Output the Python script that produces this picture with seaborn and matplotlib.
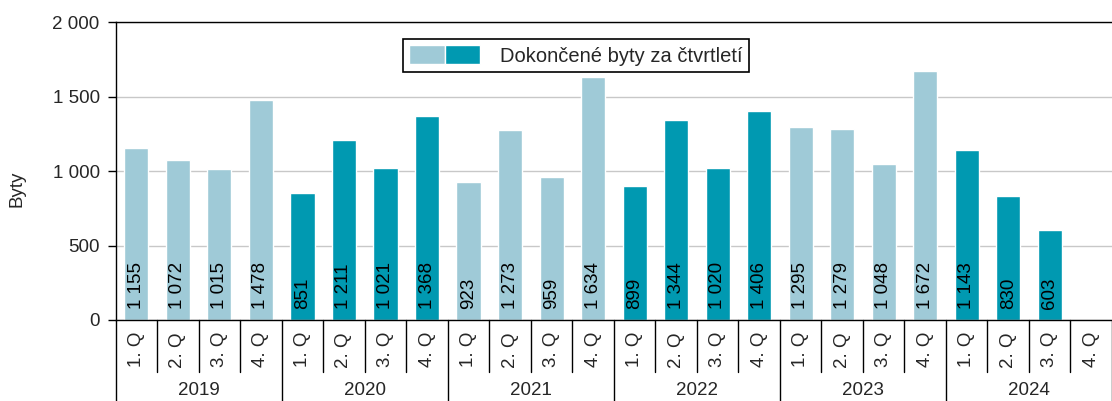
import numpy as np
import pandas as pd
import matplotlib.pyplot as plt
import seaborn as sns
from matplotlib.patches import Patch
from matplotlib.legend_handler import HandlerTuple

# --- Datos: dokončené byty za čtvrtletí ---
YEARS = ['2019', '2020', '2021', '2022', '2023', '2024']
QUARTERS = ['1. Q', '2. Q', '3. Q', '4. Q']
VALUES_2019 = [1155, 1072, 1015, 1478]
VALUES_2020 = [851, 1211, 1021, 1368]
VALUES_2021 = [923, 1273, 959, 1634]
VALUES_2022 = [899, 1344, 1020, 1406]
VALUES_2023 = [1295, 1279, 1048, 1672]
VALUES_2024 = [1143, 830, 603, np.nan]
DARK_YEARS = ['2020', '2022', '2024']

LIGHT = '#9fcad7'
DARK = '#0099b1'
FS = 13.5

sns.set_theme(style="white")
plt.rcParams['font.family'] = ['Liberation Sans', 'DejaVu Sans']
plt.rcParams['font.size'] = FS

all_values = [VALUES_2019, VALUES_2020, VALUES_2021, VALUES_2022, VALUES_2023, VALUES_2024]
rows = []
for year, vals in zip(YEARS, all_values):
    for q, v in zip(QUARTERS, vals):
        rows.append({'slot': f'{year} {q}', 'year': year, 'quarter': q, 'value': v,
                     'shade': 'dark' if year in DARK_YEARS else 'light'})
df = pd.DataFrame(rows)
order = df['slot'].tolist()

fig = plt.figure(figsize=(11.12, 4.01), dpi=100)
ax = fig.add_axes([0.104, 0.202, 0.896, 0.743])

sns.barplot(data=df.dropna(), x='slot', y='value', hue='shade', order=order,
            palette={'light': LIGHT, 'dark': DARK}, dodge=False, width=0.58,
            saturation=1, legend=False, ax=ax)

ax.set_xlim(-0.5, len(order) - 0.5)
ax.set_ylim(0, 2000)
ax.set_yticks([0, 500, 1000, 1500, 2000])
ax.set_yticklabels(['0', '500', '1 000', '1 500', '2 000'])
ax.yaxis.grid(True, color='#c8c8c8', linewidth=1)
ax.set_axisbelow(True)
ax.tick_params(axis='y', left=True, length=5.5, width=1, color='black', labelsize=FS, pad=6)
ax.set_xticks([])
ax.set_xlabel('')
ax.set_ylabel('Byty', fontsize=FS)
ax.yaxis.set_label_coords(-0.09, 0.44)
for side in ['left', 'bottom', 'top']:
    ax.spines[side].set_color('black')
    ax.spines[side].set_linewidth(1)
ax.spines['right'].set_visible(False)

# Hodnoty uvnitř sloupců
for i, v in enumerate(df['value']):
    if not np.isnan(v):
        ax.text(i, 75, f'{int(v):,}'.replace(',', ' '), rotation=90,
                ha='center', va='bottom', fontsize=FS, color='black')

# Dvouúrovňová osa x
trans = ax.get_xaxis_transform()
for i, q in enumerate(df['quarter']):
    ax.text(i, -0.1, q, rotation=90, ha='center', va='center',
            fontsize=FS, transform=trans, clip_on=False)
for i in range(len(order) + 1):
    depth = -0.272 if i % 4 == 0 else -0.174
    ax.plot([i - 0.5, i - 0.5], [0, depth], color='black', linewidth=1,
            transform=trans, clip_on=False)
for k, year in enumerate(YEARS):
    ax.text(k * 4 + 1.5, -0.238, year, ha='center', va='center',
            fontsize=FS, transform=trans, clip_on=False)

# Legenda se dvěma barevnými ploškami
handle = (Patch(facecolor=LIGHT), Patch(facecolor=DARK))
leg = ax.legend([handle], ['Dokončené byty za čtvrtletí'],
                handler_map={tuple: HandlerTuple(ndivide=None, pad=0)},
                loc='upper center', bbox_to_anchor=(0.462, 0.976),
                handlelength=3.5, handleheight=1.05, handletextpad=1.0,
                borderpad=0.3, fancybox=False, framealpha=1,
                edgecolor='black', fontsize=14.5)
leg.get_frame().set_linewidth(1.2)

fig.savefig('out.png', dpi=100)
